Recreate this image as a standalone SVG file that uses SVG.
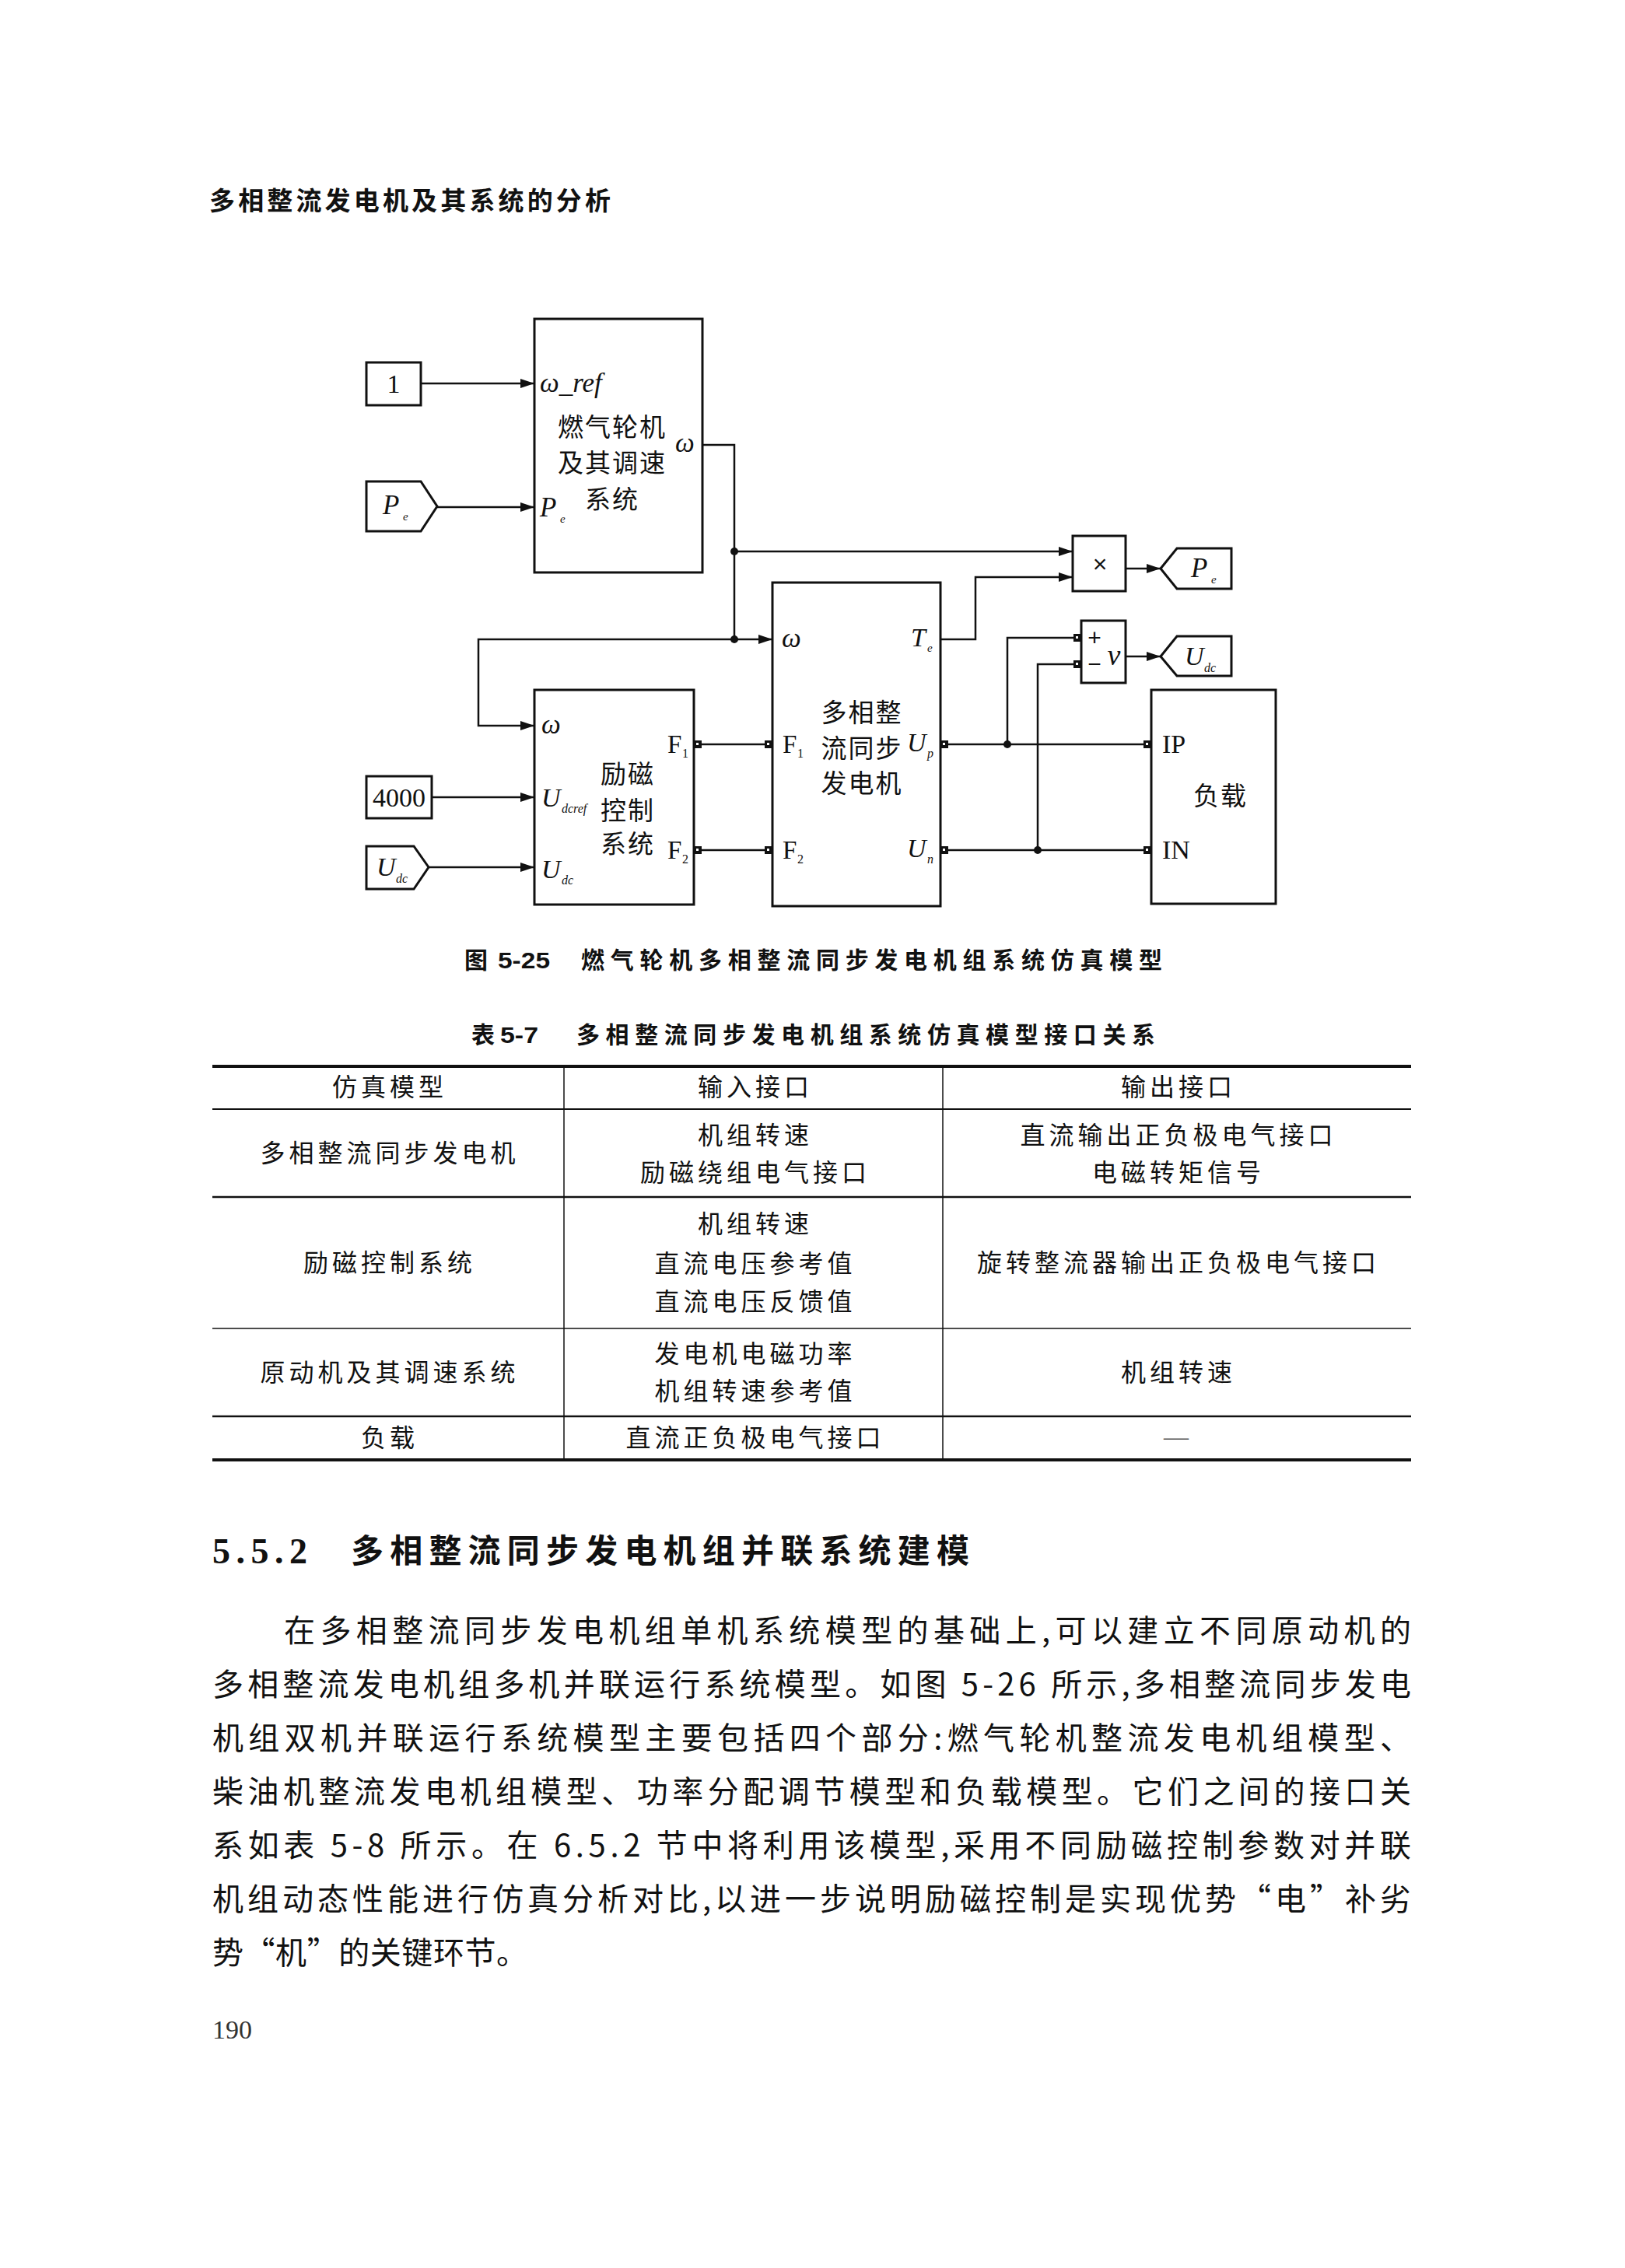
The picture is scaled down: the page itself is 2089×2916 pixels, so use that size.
<svg xmlns="http://www.w3.org/2000/svg" xmlns:xlink="http://www.w3.org/1999/xlink" width="2089" height="2916" viewBox="0 0 2089 2916">
<defs>
<marker id="arr" markerUnits="userSpaceOnUse" markerWidth="18" markerHeight="12" refX="18" refY="6" orient="auto">
<path d="M0,0 L18,6 L0,12 Z" fill="#111"/>
</marker>
<g id="port"><rect x="0" y="0" width="10" height="10" fill="#111"/><rect x="3" y="3" width="3" height="3" fill="#fff"/></g>
<style>
.box{fill:none;stroke:#111;stroke-width:3}
.w{fill:none;stroke:#111;stroke-width:2.5}
.wa{fill:none;stroke:#111;stroke-width:2.5;marker-end:url(#arr)}
.cn{font-family:'Noto Sans CJK SC',sans-serif;fill:#111}
.cb{font-family:'Noto Sans CJK SC',sans-serif;font-weight:bold;fill:#111}
.it{font-family:'Liberation Serif',serif;font-style:italic;fill:#111}
.rm{font-family:'Liberation Serif',serif;fill:#111}
.lbl{font-size:33px;letter-spacing:2px;text-anchor:middle}
.tb{font-size:32px;letter-spacing:5px;text-anchor:middle}
.body{font-size:40px}
.ln{stroke:#111}
</style>
</defs>
<rect width="2089" height="2916" fill="#fff"/>

<!-- page header -->
<text class="cb" x="269" y="270" font-size="33" textLength="516" lengthAdjust="spacing">多相整流发电机及其系统的分析</text>

<!-- connectors -->
<g id="connectors">
<path class="wa" d="M541,493 H687"/>
<path class="wa" d="M562,652 H687"/>
<path class="w" d="M903,572 H944 V822"/>
<path class="wa" d="M944,709 H1379"/>
<path class="wa" d="M944,822 H993"/>
<path class="wa" d="M944,822 H615 V933 H687"/>
<path class="wa" d="M555,1025 H687"/>
<path class="wa" d="M551,1115 H687"/>
<path class="w" d="M902,957 H983"/>
<path class="w" d="M902,1093 H983"/>
<path class="wa" d="M1209,822 H1254 V742 H1379"/>
<path class="wa" d="M1447,731 H1492"/>
<path class="w" d="M1219,957 H1470"/>
<path class="w" d="M1219,1093 H1470"/>
<path class="w" d="M1295,957 V820 H1380"/>
<path class="w" d="M1334,1093 V854 H1380"/>
<path class="wa" d="M1447,844 H1492"/>
<circle cx="944" cy="709" r="5" fill="#111"/>
<circle cx="944" cy="822" r="5" fill="#111"/>
<circle cx="1295" cy="957" r="5" fill="#111"/>
<circle cx="1334" cy="1093" r="5" fill="#111"/>
</g>

<!-- constant 1 -->
<g id="const1">
<rect class="box" x="471" y="466" width="70" height="55"/>
<text class="rm" x="506" y="505" font-size="34" text-anchor="middle">1</text>
</g>

<!-- Pe from tag -->
<g id="pe_in">
<path class="box" d="M471,619 H541 L562,651 L541,683 H471 Z"/>
<text class="it" x="492" y="661" font-size="35">P</text>
<text class="it" x="518" y="669" font-size="15">e</text>
</g>

<!-- turbine -->
<g id="turbine">
<rect class="box" x="687" y="410" width="216" height="326"/>
<text class="it" x="694" y="504" font-size="35">ω_ref</text>
<text class="cn lbl" x="787" y="561">燃气轮机</text>
<text class="cn lbl" x="787" y="607">及其调速</text>
<text class="cn lbl" x="787" y="654">系统</text>
<text class="it" x="868" y="581" font-size="35">ω</text>
<text class="it" x="694" y="664" font-size="35">P</text>
<text class="it" x="720" y="672" font-size="15">e</text>
</g>

<!-- 4000 -->
<g id="const4000">
<rect class="box" x="471" y="998" width="84" height="54"/>
<text class="rm" x="513" y="1037" font-size="34" text-anchor="middle">4000</text>
</g>

<!-- Udc from tag -->
<g id="udc_in">
<path class="box" d="M471,1088 H532 L551,1115 L532,1143 H471 Z"/>
<text class="it" x="484" y="1126" font-size="34">U</text>
<text class="it" x="509" y="1135" font-size="16">dc</text>
</g>

<!-- excitation -->
<g id="excitation">
<rect class="box" x="687" y="887" width="205" height="276"/>
<text class="it" x="696" y="943" font-size="35">ω</text>
<text class="it" x="696" y="1037" font-size="34">U</text>
<text class="it" x="722" y="1045" font-size="16">dcref</text>
<text class="it" x="696" y="1129" font-size="34">U</text>
<text class="it" x="722" y="1137" font-size="16">dc</text>
<text class="cn lbl" x="807" y="1007">励磁</text>
<text class="cn lbl" x="807" y="1054">控制</text>
<text class="cn lbl" x="807" y="1097">系统</text>
<text class="rm" x="858" y="968" font-size="33">F</text>
<text class="rm" x="877" y="974" font-size="16">1</text>
<text class="rm" x="858" y="1104" font-size="33">F</text>
<text class="rm" x="877" y="1110" font-size="16">2</text>
<use xlink:href="#port" x="892" y="952"/>
<use xlink:href="#port" x="892" y="1088"/>
</g>

<!-- generator -->
<g id="generator">
<rect class="box" x="993" y="749" width="216" height="416"/>
<text class="it" x="1005" y="832" font-size="35">ω</text>
<text class="it" x="1171" y="831" font-size="34">T</text>
<text class="it" x="1192" y="838" font-size="15">e</text>
<text class="cn lbl" x="1108" y="928">多相整</text>
<text class="cn lbl" x="1108" y="974">流同步</text>
<text class="cn lbl" x="1108" y="1019">发电机</text>
<text class="rm" x="1006" y="968" font-size="33">F</text>
<text class="rm" x="1025" y="974" font-size="16">1</text>
<text class="rm" x="1006" y="1104" font-size="33">F</text>
<text class="rm" x="1025" y="1110" font-size="16">2</text>
<text class="it" x="1166" y="966" font-size="34">U</text>
<text class="it" x="1192" y="974" font-size="16">p</text>
<text class="it" x="1166" y="1102" font-size="34">U</text>
<text class="it" x="1192" y="1110" font-size="16">n</text>
<use xlink:href="#port" x="983" y="952"/>
<use xlink:href="#port" x="983" y="1088"/>
<use xlink:href="#port" x="1209" y="952"/>
<use xlink:href="#port" x="1209" y="1088"/>
</g>

<!-- product -->
<g id="product">
<rect class="box" x="1379" y="689" width="68" height="71"/>
<text x="1414" y="736" font-family="'Liberation Sans',sans-serif" font-size="32" text-anchor="middle" fill="#111">×</text>
</g>

<!-- Pe goto -->
<g id="pe_out">
<path class="box" d="M1492,731 L1513,705 H1583 V757 H1513 Z"/>
<text class="it" x="1531" y="742" font-size="35">P</text>
<text class="it" x="1557" y="750" font-size="15">e</text>
</g>

<!-- voltmeter -->
<g id="voltmeter">
<rect class="box" x="1390" y="798" width="57" height="80"/>
<text x="1407" y="830" font-family="'Liberation Sans',sans-serif" font-size="30" text-anchor="middle" fill="#111">+</text>
<text x="1407" y="864" font-family="'Liberation Sans',sans-serif" font-size="30" text-anchor="middle" fill="#111">−</text>
<text class="it" x="1432" y="855" font-size="38" text-anchor="middle">v</text>
<use xlink:href="#port" x="1380" y="815"/>
<use xlink:href="#port" x="1380" y="849"/>
</g>

<!-- Udc goto -->
<g id="udc_out">
<path class="box" d="M1492,844 L1513,818 H1583 V869 H1513 Z"/>
<text class="it" x="1523" y="855" font-size="34">U</text>
<text class="it" x="1548" y="864" font-size="16">dc</text>
</g>

<!-- load -->
<g id="load">
<rect class="box" x="1480" y="887" width="160" height="275"/>
<text class="rm" x="1494" y="968" font-size="34">IP</text>
<text class="rm" x="1494" y="1104" font-size="34">IN</text>
<text class="cn lbl" x="1569" y="1035">负载</text>
<use xlink:href="#port" x="1470" y="952"/>
<use xlink:href="#port" x="1470" y="1088"/>
</g>

<!-- caption -->
<g id="caption">
<text class="cb" x="597" y="1245" font-size="30">图</text>
<text x="640" y="1245" font-family="'Liberation Sans',sans-serif" font-weight="bold" font-size="30" textLength="67" lengthAdjust="spacingAndGlyphs" fill="#111">5-25</text>
<text class="cb" x="747" y="1245" font-size="30" textLength="747" lengthAdjust="spacing">燃气轮机多相整流同步发电机组系统仿真模型</text>
</g>

<!-- table title -->
<g id="table_title">
<text class="cb" x="606" y="1341" font-size="30">表</text>
<text x="643" y="1341" font-family="'Liberation Sans',sans-serif" font-weight="bold" font-size="30" textLength="49" lengthAdjust="spacingAndGlyphs" fill="#111">5-7</text>
<text class="cb" x="741" y="1341" font-size="30" textLength="744" lengthAdjust="spacing">多相整流同步发电机组系统仿真模型接口关系</text>
</g>

<!-- table -->
<g id="table">
<line class="ln" x1="273" y1="1371" x2="1814" y2="1371" stroke-width="4"/>
<line class="ln" x1="273" y1="1426" x2="1814" y2="1426" stroke-width="2"/>
<line class="ln" x1="273" y1="1539" x2="1814" y2="1539" stroke-width="2.5"/>
<line class="ln" x1="273" y1="1708" x2="1814" y2="1708" stroke-width="1.5"/>
<line class="ln" x1="273" y1="1821" x2="1814" y2="1821" stroke-width="2.5"/>
<line class="ln" x1="273" y1="1877" x2="1814" y2="1877" stroke-width="4"/>
<line class="ln" x1="725" y1="1371" x2="725" y2="1877" stroke-width="1.5"/>
<line class="ln" x1="1212" y1="1371" x2="1212" y2="1877" stroke-width="1.5"/>

<text class="cn tb" x="501" y="1409">仿真模型</text>
<text class="cn tb" x="971" y="1409">输入接口</text>
<text class="cn tb" x="1515" y="1409">输出接口</text>

<text class="cn tb" x="501" y="1494">多相整流同步发电机</text>
<text class="cn tb" x="971" y="1471">机组转速</text>
<text class="cn tb" x="971" y="1519">励磁绕组电气接口</text>
<text class="cn tb" x="1515" y="1471">直流输出正负极电气接口</text>
<text class="cn tb" x="1515" y="1519">电磁转矩信号</text>

<text class="cn tb" x="501" y="1635">励磁控制系统</text>
<text class="cn tb" x="971" y="1585">机组转速</text>
<text class="cn tb" x="971" y="1636">直流电压参考值</text>
<text class="cn tb" x="971" y="1685">直流电压反馈值</text>
<text class="cn tb" x="1515" y="1635">旋转整流器输出正负极电气接口</text>

<text class="cn tb" x="501" y="1776">原动机及其调速系统</text>
<text class="cn tb" x="971" y="1752">发电机电磁功率</text>
<text class="cn tb" x="971" y="1800">机组转速参考值</text>
<text class="cn tb" x="1515" y="1776">机组转速</text>

<text class="cn tb" x="501" y="1860">负载</text>
<text class="cn tb" x="971" y="1860">直流正负极电气接口</text>
<text x="1512" y="1858" font-family="'Liberation Serif',serif" font-size="32" text-anchor="middle" fill="#555">—</text>
</g>

<!-- section heading -->
<g id="heading">
<text x="273" y="2010" font-family="'Liberation Serif',serif" font-weight="bold" font-size="46" textLength="122" lengthAdjust="spacing" fill="#111">5.5.2</text>
<text class="cb" x="451" y="2009" font-size="42" textLength="795" lengthAdjust="spacing">多相整流同步发电机组并联系统建模</text>
</g>

<!-- paragraph -->
<g id="paragraph">
<text class="cn body" x="365" y="2111" textLength="1449" lengthAdjust="spacing">在多相整流同步发电机组单机系统模型的基础上,可以建立不同原动机的</text>
<text class="cn body" x="273" y="2180" textLength="1541" lengthAdjust="spacing">多相整流发电机组多机并联运行系统模型。如图 5-26 所示,多相整流同步发电</text>
<text class="cn body" x="273" y="2249" textLength="1541" lengthAdjust="spacing">机组双机并联运行系统模型主要包括四个部分:燃气轮机整流发电机组模型、</text>
<text class="cn body" x="273" y="2318" textLength="1541" lengthAdjust="spacing">柴油机整流发电机组模型、功率分配调节模型和负载模型。它们之间的接口关</text>
<text class="cn body" x="273" y="2387" textLength="1541" lengthAdjust="spacing">系如表 5-8 所示。在 6.5.2 节中将利用该模型,采用不同励磁控制参数对并联</text>
<text class="cn body" x="273" y="2456" textLength="1541" lengthAdjust="spacing">机组动态性能进行仿真分析对比,以进一步说明励磁控制是实现优势“电”补劣</text>
<text class="cn body" x="273" y="2525" textLength="405" lengthAdjust="spacing">势“机”的关键环节。</text>
</g>

<text x="273" y="2621" font-family="'Liberation Serif',serif" font-size="34" fill="#333">190</text>
</svg>
